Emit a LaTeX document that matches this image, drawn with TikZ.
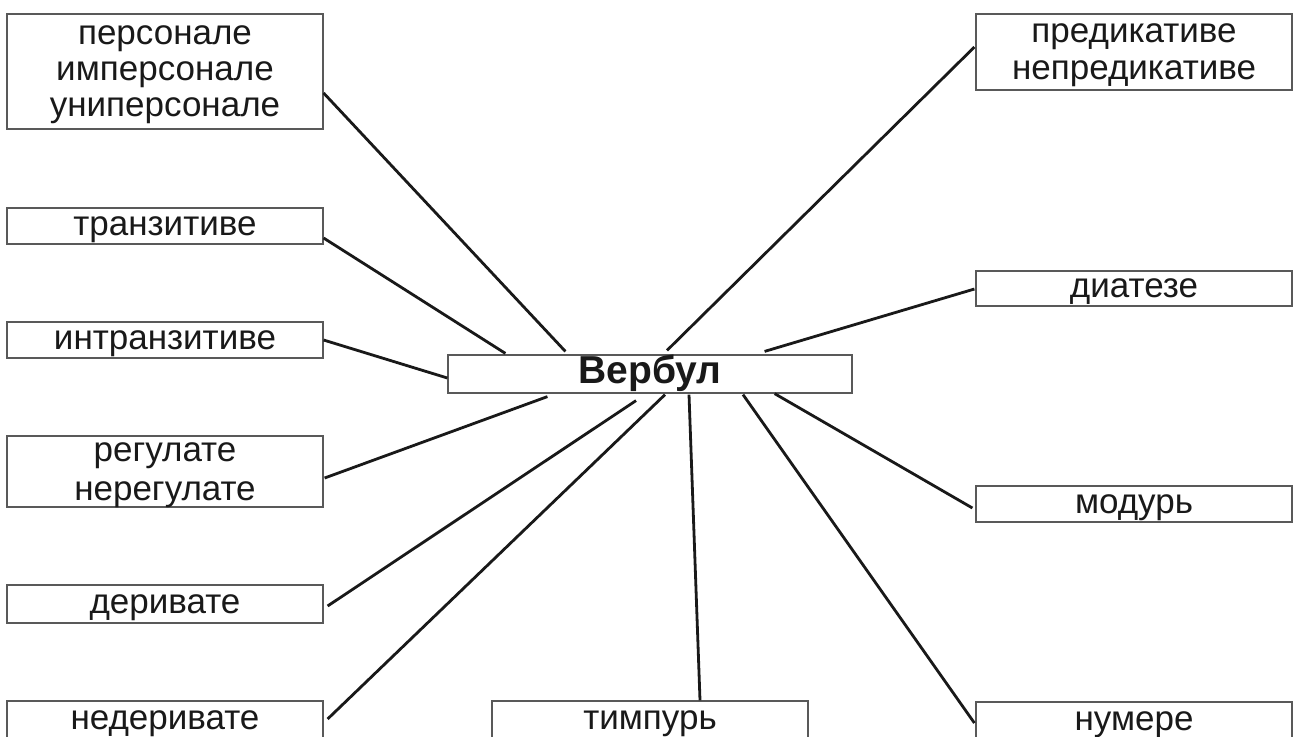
\documentclass[tikz,border=0pt]{standalone}
\usepackage{fontspec}
\setmainfont{Liberation Sans}
\usepackage{tikz}

\begin{document}
\begin{tikzpicture}[
    x=0.5pt,y=-0.5pt,
    box/.style={draw=black!65,line width=0.6pt,rectangle,inner sep=0pt,minimum width=158pt,align=center,text=black!90,
      text height=9.1pt,text depth=0pt,font=\fontsize{17.5}{18}\selectfont},
    twolines/.style={text height=9.1pt+#1,font=\fontsize{17.5}{#1}\selectfont},
    link/.style={draw=black!90,line width=1.4pt}
    ]
    \useasboundingbox (0,0) rectangle (1293,736);
    % left column
    \node[box,minimum height=57.5pt,text height=45.1pt] (pers) at (165,71.5) {персонале\\имперсонале\\униперсонале};
    \node[box,minimum height=18pt] (trans) at (165,226) {транзитиве};
    \node[box,minimum height=18pt] (intrans) at (165,340) {интранзитиве};
    \node[box,minimum height=35.5pt,twolines=19.5pt] (reg) at (165,471.5) {регулате\\нерегулате};
    \node[box,minimum height=19pt] (deriv) at (165,604) {деривате};
    \node[box,minimum height=19pt] (nederiv) at (165,720) {недеривате};
    % bottom middle
    \node[box,minimum height=19pt] (timp) at (650,720) {тимпурь};
    % right column
    \node[box,minimum height=38pt,twolines=18.25pt] (pred) at (1134,52) {предикативе\\непредикативе};
    \node[box,minimum height=17.5pt] (diat) at (1134,288.5) {диатезе};
    \node[box,minimum height=18pt] (modur) at (1134,504) {модурь};
    \node[box,minimum height=19pt] (numere) at (1134,721) {нумере};
    % centre
    \node[box,minimum width=202pt,minimum height=19pt,text height=14pt,text depth=5pt,
      font=\fontsize{19.5}{21}\selectfont\bfseries] (verb) at (650,374) {Вербул};
    % links
    \draw[link] ([shift={(0,21.5)}]pers.east) -- ([shift={(118,-3)}]verb.north west);
    \draw[link] ([shift={(0,12)}]trans.east) -- ([shift={(58,-1)}]verb.north west);
    \draw[link] (intrans.east) -- ([shift={(0,4)}]verb.west);
    \draw[link] ([shift={(1,6.5)}]reg.east) -- ([shift={(100,3)}]verb.south west);
    \draw[link] ([shift={(4,2)}]deriv.east) -- ([shift={(-14,7)}]verb.south);
    \draw[link] ([shift={(4,-1)}]nederiv.east) -- ([shift={(15,1)}]verb.south);
    \draw[link] ([shift={(50,0)}]timp.north) -- ([shift={(39,1)}]verb.south);
    \draw[link] ([shift={(-1,2)}]numere.west) -- ([shift={(93,1)}]verb.south);
    \draw[link] ([shift={(-3,4)}]modur.west) -- ([shift={(-78,0)}]verb.south east);
    \draw[link] ([shift={(-1,0.5)}]diat.west) -- ([shift={(-88,-3)}]verb.north east);
    \draw[link] ([shift={(-1,-5)}]pred.west) -- ([shift={(17,-4)}]verb.north);
\end{tikzpicture}
\end{document}
